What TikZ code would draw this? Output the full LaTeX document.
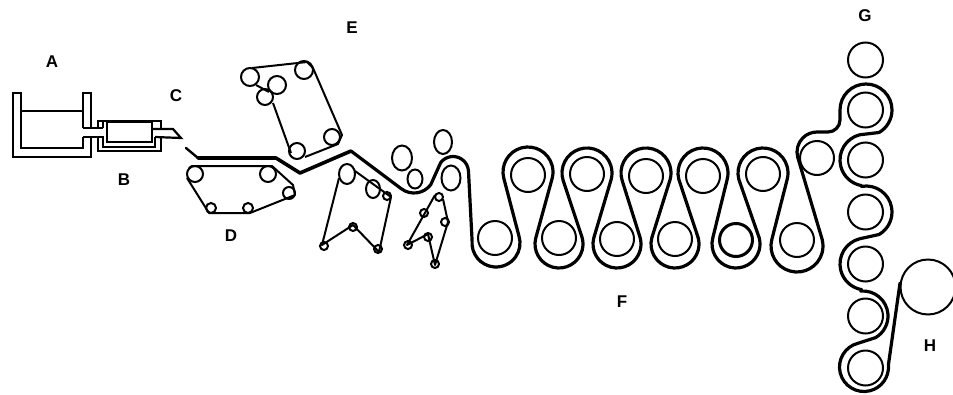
\documentclass[tikz,border=0pt]{standalone}
\usepackage{fontspec}
\setmainfont{Liberation Sans}
\usetikzlibrary{shapes.geometric}
\tikzset{
  roller/.style={draw,circle,line width=2pt,inner sep=0pt,minimum size=#1},
  idler/.style 2 args={draw,ellipse,line width=2pt,inner sep=0pt,minimum width=#1,minimum height=#2},
  web/.style={line width=3.2pt,line join=round,line cap=round},
  belt/.style={line width=2pt,line join=round},
  wall/.style={line width=2.2pt,line join=miter},
  tag/.style={font=\fontsize{17}{17}\selectfont\bfseries}
}
\begin{document}
\begin{tikzpicture}[x=1pt,y=-1pt]
\useasboundingbox (0,0) rectangle (953,394);
% tank and extruder
\draw[wall] (83,128)--(83,93)--(91,93)--(91,128);
\draw[wall] (83,137)--(83,148)--(21,148)--(21,93)--(13,93)--(13,157)--(91,157)--(91,137);
\draw[wall] (21,111)--(83,111);
\draw[wall] (83,128)--(103,128);
\draw[wall] (83,137)--(103,137)--(103,147)--(155,147)--(155,137);
\draw[wall] (98,128)--(98,121)--(161,121)--(161,129);
\draw[wall] (98,137)--(98,151)--(161,151)--(161,138);
\draw[wall] (107,122) rectangle (152,142);
\draw[wall] (103,121)--(103,128);
\draw[wall] (152,129)--(173,129)--(181,138)--(155,137);
% rollers D
\node[roller=16pt] (d1) at (195,174) {};
\node[roller=16pt] (d2) at (268,174) {};
\node[roller=12pt] (d3) at (289,193) {};
\node[roller=10pt] (d4) at (248,208) {};
\node[roller=10pt] (d5) at (211,208) {};
\draw[belt] (189,168)--(192,166)--(272,166)--(293,185)--(295,195)--(250,213)--(209,213)--(187,178);
% rollers E
\node[roller=18pt] (e1) at (250,77) {};
\node[roller=18pt] (e2) at (277,85) {};
\node[roller=16pt] (e3) at (265,97) {};
\node[roller=18pt] (e4) at (304,70) {};
\node[roller=16pt] (e5) at (297,151) {};
\node[roller=16pt] (e6) at (332,137) {};
\draw[belt] (252,68)--(307,62)--(313,68)--(342,135)--(338,144)--(305,157);
\draw[belt] (291,153)--(273,103);
\draw[belt] (256,85)--(269,92);
% press one
\node[idler={16pt}{20pt}] (p1) at (347,174) {};
\node[idler={14pt}{18pt}] (p2) at (373,189) {};
\node[roller=8pt] (p3) at (387,196) {};
\node[roller=8pt] (p4) at (378,249) {};
\node[roller=8pt] (p5) at (353,227) {};
\node[roller=8pt] (p6) at (324,246) {};
\draw[belt] (339,178)--(322,245)--(353,225)--(379,252)--(391,197)--(355,171);
% press two
\node[roller=8pt] (q1) at (439,197) {};
\node[roller=8pt] (q2) at (424,213) {};
\node[roller=8pt] (q3) at (445,222) {};
\node[roller=8pt] (q4) at (428,237) {};
\node[roller=8pt] (q5) at (408,245) {};
\node[roller=8pt] (q6) at (435,264) {};
\draw[belt] (435,195)--(407,245)--(428,234)--(435,265)--(448,222)--(443,199);
% idlers at the nip
\node[idler={20pt}{25pt}] (n1) at (402,158) {};
\node[idler={15pt}{19pt}] (n2) at (415,179) {};
\node[idler={18pt}{24pt}] (n3) at (443,142) {};
\node[idler={19pt}{25pt}] (n4) at (451,178) {};
% festoon
\foreach \i/\x/\y in {1/528/175,2/587/174,3/646/176,4/703/176,5/763/174,6/495/238,7/559/238,8/617/239,9/675/239,11/797/240,12/817/158}{
  \node[roller=34pt] (f\i) at (\x,\y) {};
}
\node[roller=33pt,line width=3pt] (f10) at (736,240) {};
% stack G and reel H
\foreach \i/\y in {1/60,2/110,3/160,4/212,5/264,6/316,7/368}{
  \node[roller=35pt] (g\i) at (865.5,\y) {};
}
\node[roller=55pt] (h) at (928,287) {};
% film path
\draw[web,line width=2.4pt] (186,148)--(198,158);
\draw[web,line width=3.6pt] (198,158)--(276,158)--(300,173)--(351,151);
\draw[web] (351,151)
  \foreach \cx/\cy/\sa/\ea/\rr in {414/172/127/37/21,453/172/217/357/15.5,496/243/185/-17/24,
    528/172/165/374/25,559/244/195/-17/24,587/173/162/374/25,617/244/195/-17/24,646/173/162/374/25,
    675/244/195/-15/24,703/173/165/374/25,736/244/195/-15/24,763/173/165/374/25,797/246/195/-15/26,
    817/152/165/270/20,828/120/90/0/12,866/110/180/420/26,866/160/256/100/26,866/212/260/420/26,
    866/264/256/100/26,863/316/265/420/25,864/367/256/-5/24.5}{
    -- ([shift={(\sa:\rr)}]\cx,\cy) arc[start angle=\sa,end angle=\ea,radius=\rr]
  } -- (900,283);
% labels
\node[tag] (la) at (52,62) {A};
\node[tag] (lb) at (124,180) {B};
\node[tag] (lc) at (176,96) {C};
\node[tag] (ld) at (231,236) {D};
\node[tag] (le) at (352,28) {E};
\node[tag] (lf) at (622,302) {F};
\node[tag] (lg) at (865,16) {G};
\node[tag] (lh) at (930,346) {H};
\end{tikzpicture}
\end{document}
